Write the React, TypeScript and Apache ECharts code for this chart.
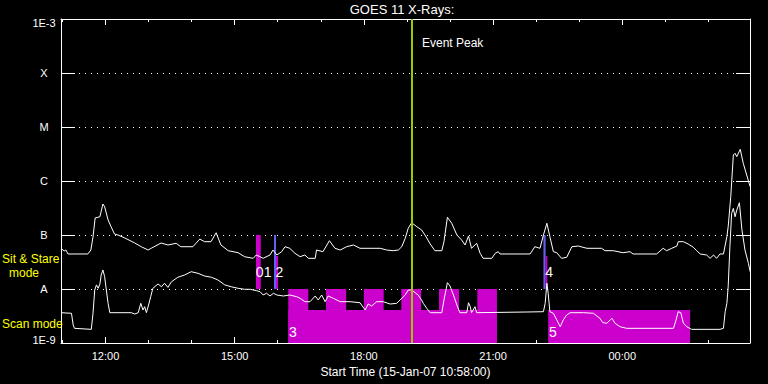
import React, { useEffect, useRef } from "react";
import * as echarts from "echarts";

// Time in decimal hours since 00:00 on 15-Jan-07 (values >= 24 are 16-Jan)
const xStart = 10.9667; // 10:58
const xEnd = 26.9667; // 02:58 next day

// GOES 11 long channel (1-8 A), W/m^2
const longTime = [
  10.97, 11.04, 11.08, 11.13, 11.59, 11.66, 11.71, 11.76, 11.87, 11.94,
  11.98, 12.06, 12.13, 12.21, 12.29, 12.45, 12.68, 12.83, 12.99, 13.06,
  13.29, 13.45, 13.64, 13.75, 14.03, 14.19, 14.3, 14.45, 14.57, 14.68,
  14.85, 15.08, 15.23, 15.43, 15.5, 15.59, 15.66, 15.82, 15.89, 15.98,
  16.09, 16.17, 16.28, 16.4, 16.52, 16.63, 16.71, 16.87, 16.9, 17.05,
  17.2, 17.33, 17.45, 17.6, 17.76, 17.91, 18.38, 18.53, 18.68, 18.8,
  18.88, 18.96, 19.03, 19.11, 19.23, 19.34, 19.42, 19.54, 19.65, 19.81,
  19.86, 19.94, 20.04, 20.16, 20.27, 20.35, 20.43, 20.5, 20.62, 20.7,
  20.77, 20.97, 21.05, 21.12, 21.16, 21.86, 21.97, 22.09, 22.17, 22.25,
  22.32, 22.4, 22.48, 22.59, 22.71, 22.83, 22.98, 23.18, 23.52, 23.6,
  23.79, 24.02, 24.18, 24.25, 24.8, 24.95, 25.03, 25.15, 25.27, 25.3,
  25.42, 25.53, 25.65, 25.73, 25.81, 25.96, 26.04, 26.12, 26.19, 26.27,
  26.35, 26.43, 26.46, 26.52, 26.58, 26.62, 26.66, 26.74, 26.81, 26.89,
  26.97,
];
const longFlux = [
  5.67e-8, 5.05e-8, 5.27e-8, 4.45e-8, 4.45e-8, 5.27e-8, 9.19e-8, 2.07e-7, 2.18e-7, 3.75e-7,
  3.34e-7, 1.9e-7, 1.42e-7, 1.04e-7, 1.0e-7, 8.8e-8, 7.11e-8, 6.07e-8, 5.27e-8, 5.67e-8,
  7.11e-8, 6.53e-8, 7.02e-8, 6.07e-8, 6.07e-8, 8.43e-8, 7.52e-8, 7.52e-8, 1.1e-7, 6.53e-8,
  5.12e-8, 4.7e-8, 3.96e-8, 3.7e-8, 4.26e-8, 3.96e-8, 3.7e-8, 4.26e-8, 5.27e-8, 4.26e-8,
  4.91e-8, 6.07e-8, 5.67e-8, 4.58e-8, 3.96e-8, 4.26e-8, 3.7e-8, 3.7e-8, 5.27e-8, 4.91e-8,
  7.84e-8, 5.67e-8, 5.27e-8, 6.07e-8, 6.53e-8, 5.67e-8, 5.67e-8, 5.27e-8, 5.12e-8, 5.27e-8,
  6.07e-8, 8.69e-8, 1.33e-7, 1.69e-7, 1.42e-7, 1.24e-7, 1.0e-7, 6.81e-8, 5.12e-8, 5.12e-8,
  7.52e-8, 2.13e-7, 1.65e-7, 1.0e-7, 8.08e-8, 6.53e-8, 9.58e-8, 5.67e-8, 7.02e-8, 4.58e-8,
  3.7e-8, 3.7e-8, 4.58e-8, 4.91e-8, 4.45e-8, 4.45e-8, 6.07e-8, 5.67e-8, 1.0e-7, 1.65e-7,
  9.3e-8, 4.91e-8, 4.7e-8, 3.7e-8, 3.86e-8, 6.07e-8, 6.25e-8, 5.67e-8, 5.67e-8, 5.12e-8,
  5.12e-8, 4.7e-8, 4.91e-8, 4.45e-8, 4.45e-8, 5.67e-8, 5.12e-8, 5.67e-8, 6.25e-8, 7.52e-8,
  7.52e-8, 6.81e-8, 5.92e-8, 5.12e-8, 4.45e-8, 4.26e-8, 3.7e-8, 4.26e-8, 3.7e-8, 4.45e-8,
  4.45e-8, 9.3e-8, 1.42e-7, 5.12e-7, 3.03e-6, 3.26e-6, 2.82e-6, 3.86e-6, 2.13e-6, 1.29e-6,
  7.84e-7,
];

// GOES 11 short channel (0.5-4 A), W/m^2
const shortTime = [
  10.97, 11.21, 11.25, 11.28, 11.67, 11.71, 11.75, 11.79, 11.83, 11.87,
  11.9, 11.94, 11.98, 12.02, 12.06, 12.1, 12.6, 12.68, 12.76, 12.82,
  12.87, 12.91, 12.95, 13.0, 13.05, 13.1, 13.22, 13.3, 13.37, 13.45,
  13.53, 13.68, 13.84, 13.99, 14.15, 14.3, 14.46, 14.61, 14.77, 14.92,
  15.08, 15.23, 15.36, 15.51, 15.59, 15.66, 15.74, 15.82, 15.9, 15.98,
  16.13, 16.28, 16.44, 16.52, 16.63, 16.75, 16.87, 16.94, 17.02, 17.1,
  17.17, 17.29, 17.45, 17.68, 17.91, 18.03, 18.1, 18.18, 18.3, 18.45,
  18.61, 18.76, 18.84, 18.96, 19.03, 19.11, 19.19, 19.26, 19.34, 19.38,
  19.46, 19.54, 19.81, 19.86, 19.94, 20.0, 20.08, 20.16, 20.23, 20.39,
  20.43, 20.47, 20.5, 20.58, 20.62, 21.78, 22.17, 22.21, 22.25, 22.28,
  22.32, 22.4, 22.48, 22.56, 22.63, 22.71, 22.79, 23.1, 23.33, 23.48,
  23.55, 23.64, 23.72, 23.76, 23.83, 23.95, 24.1, 25.19, 25.25, 25.3,
  25.36, 25.42, 25.5, 25.61, 26.27, 26.35, 26.39, 26.43, 26.46, 26.5,
  26.54, 26.58, 26.62, 26.66, 26.72, 26.78, 26.85, 26.93, 26.97,
];
const shortFlux = [
  3.64e-9, 3.55e-9, 2.15e-9, 1.87e-9, 1.79e-9, 3.55e-9, 9.58e-9, 1.19e-8, 1.03e-8, 1.24e-8,
  1.82e-8, 2.25e-8, 1.69e-8, 9.58e-9, 5.43e-9, 3.64e-9, 3.64e-9, 3.44e-9, 3.64e-9, 5.43e-9,
  4.08e-9, 4.7e-9, 3.64e-9, 5.05e-9, 7.2e-9, 1.03e-8, 1.24e-8, 1.1e-8, 1.28e-8, 1.07e-8,
  1.36e-8, 1.65e-8, 1.82e-8, 2.09e-8, 1.95e-8, 1.74e-8, 1.65e-8, 1.47e-8, 1.19e-8, 1.1e-8,
  1.03e-8, 9.87e-9, 9.87e-9, 9.3e-9, 8.91e-9, 7.74e-9, 8.33e-9, 7.42e-9, 8.33e-9, 7.74e-9,
  7.42e-9, 7.74e-9, 7.2e-9, 6.72e-9, 5.82e-9, 5.82e-9, 7.42e-9, 6.26e-9, 7.74e-9, 5.82e-9,
  7.42e-9, 6.72e-9, 5.82e-9, 5.82e-9, 5.57e-9, 4.08e-9, 5.27e-9, 4.84e-9, 5.82e-9, 5.82e-9,
  5.27e-9, 5.43e-9, 6.26e-9, 7.74e-9, 9.58e-9, 9.58e-9, 8.54e-9, 7.74e-9, 6.26e-9, 5.43e-9,
  4.39e-9, 3.64e-9, 3.64e-9, 6.26e-9, 1.31e-8, 1.14e-8, 7.74e-9, 5.05e-9, 3.64e-9, 3.64e-9,
  5.57e-9, 4.7e-9, 3.64e-9, 4.7e-9, 3.64e-9, 3.75e-9, 3.8e-9, 5.43e-9, 1.28e-8, 8.33e-9,
  3.8e-9, 3.55e-9, 2.67e-9, 2.0e-9, 2.67e-9, 3.3e-9, 3.64e-9, 3.64e-9, 3.55e-9, 2.87e-9,
  2.38e-9, 2.32e-9, 2.67e-9, 2.87e-9, 2.32e-9, 2.0e-9, 1.87e-9, 1.87e-9, 2.67e-9, 3.8e-9,
  3.64e-9, 2.32e-9, 2.0e-9, 1.79e-9, 1.79e-9, 1.87e-9, 3.8e-9, 5.43e-9, 1.1e-8, 6.07e-8,
  2.52e-7, 3.12e-7, 2.18e-7, 2.9e-7, 3.96e-7, 1.24e-7, 5.27e-8, 2.99e-8, 2.09e-8,
];

// Observing-mode boxes: start, end (hours), top, bottom (flux), kind
const boxStart = [15.495, 15.913, 15.96, 16.245, 16.245, 17.12, 18.0, 18.87, 19.745, 20.635, 22.17, 22.22, 22.28];
const boxEnd = [15.605, 15.96, 16.006, 21.09, 16.71, 17.59, 18.46, 19.33, 20.21, 21.09, 22.22, 22.26, 25.575];
const boxTop = [1e-7, 1e-7, 4.08e-8, 4.08e-9, 1e-8, 1e-8, 1e-8, 1e-8, 1e-8, 1e-8, 1e-7, 4.08e-8, 4.08e-9];
const boxBottom = [1e-8, 1e-8, 1e-8, 1e-9, 1e-9, 1e-9, 1e-9, 1e-9, 1e-9, 1e-9, 1e-8, 1e-8, 1e-9];
const boxKind = ["m", "b", "m", "m", "m", "m", "m", "m", "m", "m", "b", "m", "m"];

// Event number labels
const eventLabelText = ["0", "1", "2", "3", "4", "5"];
const eventLabelTime = [15.49, 15.675, 15.95, 16.26, 22.21, 22.3];
const eventLabelFlux = [2.06e-8, 2.06e-8, 2.06e-8, 1.6e-9, 2.06e-8, 1.6e-9];

const eventPeakTime = 19.12;

const yTickExponents = [-9, -8, -7, -6, -5, -4, -3];
const yTickLabels = ["1E-9", "A", "B", "C", "M", "X", "1E-3"];

const FONT = "'Liberation Sans', Arial, sans-serif";
const MAGENTA = "#cc00cc";
const BLUE = "#6262f2";
const GREEN = "#99cc00";

export default function App() {
  const ref = useRef<HTMLDivElement>(null);

  useEffect(() => {
    if (!ref.current) return;
    const chart = echarts.init(ref.current, null, { renderer: "svg" });

    const longData = longTime.map((t, i) => [t, longFlux[i]]);
    const shortData = shortTime.map((t, i) => [t, shortFlux[i]]);
    const boxData = boxStart.map((s, i) => [s, boxEnd[i], boxTop[i], boxBottom[i], boxKind[i] === "b" ? 1 : 0]);
    const labelData = eventLabelTime.map((t, i) => [t, eventLabelFlux[i]]);

    const xLabel = (v: number) => {
      const r = Math.round(v);
      if (Math.abs(v - r) > 0.01) return "";
      const h = ((r % 24) + 24) % 24;
      return (h < 10 ? "0" : "") + h + ":00";
    };
    const yLabel = (v: number) => {
      const e = Math.round(Math.log10(v));
      const idx = yTickExponents.indexOf(e);
      if (idx < 0) return "";
      if (e === -3) return "{hi|" + yTickLabels[idx] + "}";
      if (e === -9) return "{lo|" + yTickLabels[idx] + "}";
      return yTickLabels[idx];
    };

    const xCommon = {
      type: "value",
      min: xStart,
      max: xEnd,
      minInterval: 3,
      maxInterval: 3,
      axisLine: { show: true, lineStyle: { color: "#ffffff", width: 1 } },
      axisTick: { show: true, inside: true, length: 6, lineStyle: { color: "#ffffff", width: 1 } },
      minorTick: { show: true, splitNumber: 3, length: 3, lineStyle: { color: "#ffffff", width: 1 } },
      splitLine: { show: false },
      minorSplitLine: { show: false },
    };
    const yCommon = {
      type: "log",
      logBase: 10,
      min: 1e-9,
      max: 1e-3,
      axisLine: { show: true, lineStyle: { color: "#ffffff", width: 1 } },
      axisTick: { show: true, inside: true, length: 14, lineStyle: { color: "#ffffff", width: 1 } },
      minorTick: { show: false },
    };

    const option: any = {
      animation: false,
      backgroundColor: "#000000",
      textStyle: { fontFamily: FONT },
      grid: { left: 61, right: 18, top: 19, bottom: 41, containLabel: false },
      xAxis: [
        {
          ...xCommon,
          position: "bottom",
          axisLabel: {
            show: true,
            color: "#ffffff",
            fontSize: 11,
            fontFamily: FONT,
            margin: 7,
            showMinLabel: false,
            showMaxLabel: false,
            formatter: xLabel,
          },
          name: "Start Time (15-Jan-07 10:58:00)",
          nameLocation: "middle",
          nameGap: 20,
          nameTextStyle: { color: "#ffffff", fontSize: 12, fontFamily: FONT },
        },
        {
          ...xCommon,
          position: "top",
          axisLabel: { show: false },
        },
      ],
      yAxis: [
        {
          ...yCommon,
          position: "left",
          axisLabel: {
            show: true,
            color: "#ffffff",
            fontSize: 11,
            fontFamily: FONT,
            align: "center",
            margin: 17,
            formatter: yLabel,
            rich: {
              hi: { color: "#ffffff", fontSize: 11, fontFamily: FONT, padding: [7, 0, 0, 0] },
              lo: { color: "#ffffff", fontSize: 11, fontFamily: FONT, padding: [0, 0, 6, 0] },
            },
          },
          splitLine: { show: true, lineStyle: { color: "#ffffff", width: 1, type: [1, 5] } },
        },
        {
          ...yCommon,
          position: "right",
          axisLabel: { show: false },
          splitLine: { show: false },
        },
      ],
      series: [
        {
          type: "custom",
          name: "modes",
          xAxisIndex: 0,
          yAxisIndex: 0,
          z: 1,
          silent: true,
          encode: { x: [0, 1], y: [2, 3] },
          data: boxData,
          renderItem: (params: any, api: any) => {
            const p0 = api.coord([api.value(0), api.value(2)]);
            const p1 = api.coord([api.value(1), api.value(3)]);
            return {
              type: "rect",
              shape: { x: p0[0], y: p0[1], width: p1[0] - p0[0], height: p1[1] - p0[1] },
              style: { fill: api.value(4) === 1 ? BLUE : MAGENTA, stroke: null },
            };
          },
        },
        {
          type: "line",
          name: "long",
          xAxisIndex: 0,
          yAxisIndex: 0,
          z: 3,
          data: longData,
          showSymbol: false,
          symbol: "none",
          silent: true,
          lineStyle: { color: "#ffffff", width: 1 },
        },
        {
          type: "line",
          name: "short",
          xAxisIndex: 0,
          yAxisIndex: 0,
          z: 3,
          data: shortData,
          showSymbol: false,
          symbol: "none",
          silent: true,
          lineStyle: { color: "#ffffff", width: 1 },
          markLine: {
            silent: true,
            symbol: ["none", "none"],
            label: { show: false },
            lineStyle: { color: GREEN, width: 2, type: "solid" },
            data: [{ xAxis: eventPeakTime }],
          },
        },
        {
          type: "custom",
          name: "eventNumbers",
          xAxisIndex: 0,
          yAxisIndex: 0,
          z: 4,
          silent: true,
          data: labelData,
          renderItem: (params: any, api: any) => {
            const p = api.coord([api.value(0), api.value(1)]);
            return {
              type: "text",
              x: p[0],
              y: p[1],
              style: {
                text: eventLabelText[params.dataIndex],
                fill: "#ffffff",
                font: "14px " + FONT,
                align: "left",
                verticalAlign: "middle",
              },
            };
          },
        },
      ],
      graphic: [
        {
          type: "text",
          x: 402,
          y: 9,
          z: 100,
          style: { text: "GOES 11 X-Rays:", fill: "#ffffff", font: "13px " + FONT, align: "center", verticalAlign: "middle" },
        },
        {
          type: "text",
          x: 422,
          y: 43,
          z: 100,
          style: { text: "Event Peak", fill: "#ffffff", font: "12px " + FONT, align: "left", verticalAlign: "middle" },
        },
        {
          type: "text",
          x: 2,
          y: 258.5,
          z: 100,
          style: { text: "Sit & Stare", fill: "#ffff00", font: "12px " + FONT, align: "left", verticalAlign: "middle" },
        },
        {
          type: "text",
          x: 24,
          y: 272.5,
          z: 100,
          style: { text: "mode", fill: "#ffff00", font: "12px " + FONT, align: "center", verticalAlign: "middle" },
        },
        {
          type: "text",
          x: 2,
          y: 324,
          z: 100,
          style: { text: "Scan mode", fill: "#ffff00", font: "12px " + FONT, align: "left", verticalAlign: "middle" },
        },
      ],
    };

    chart.setOption(option);
    return () => {
      chart.dispose();
    };
  }, []);

  return (
    <div
      ref={ref}
      style={{ position: "fixed", left: 0, top: 0, width: 768, height: 384, background: "#000000" }}
    />
  );
}
